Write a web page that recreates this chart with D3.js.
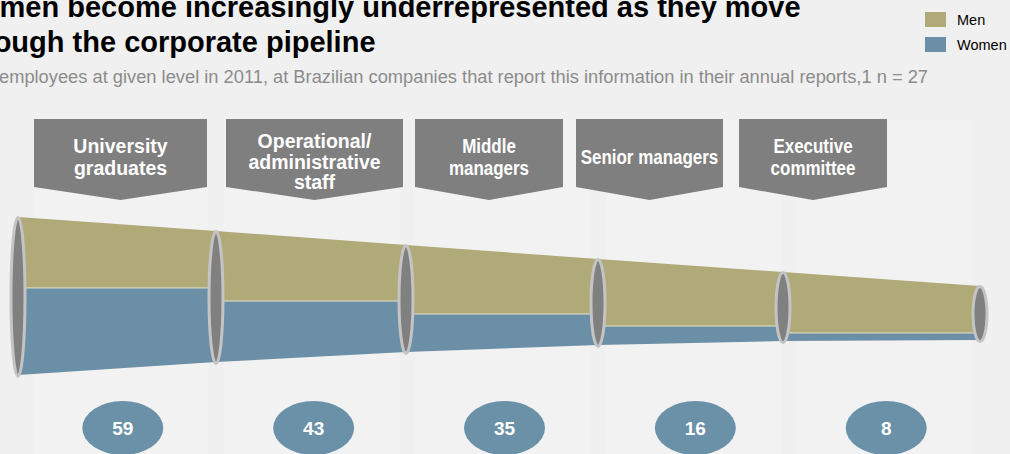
<!DOCTYPE html>
<html><head><meta charset="utf-8">
<script src="https://cdn.jsdelivr.net/npm/d3@7"></script>
<style>
html,body{margin:0;padding:0;background:#f0f0f0;overflow:hidden}
svg{display:block}
text{font-family:"Liberation Sans",Arial,Helvetica,sans-serif}
</style>
</head><body>
<svg id="chart" width="1010" height="454"></svg>
<script>
// ---- data ----
const titleLines = ["Women become increasingly underrepresented as they move", "through the corporate pipeline"];
const subtitle = "employees at given level in 2011, at Brazilian companies that report this information in their annual reports,1 n = 27";
const series = ["Men", "Women"];
const levels = ["University graduates", "Operational/ administrative staff", "Middle managers", "Senior managers", "Executive committee"];
const levelLines = [["University", "graduates"], ["Operational/", "administrative", "staff"], ["Middle", "managers"], ["Senior managers"], ["Executive", "committee"]];
const womenPct = [59, 43, 35, 16, 8];
// pipeline outline (relative units, 0 = bottom of first ring, 100 = top of first ring), at the 6 rings
const ringIndex = [0, 1, 2, 3, 4, 5];
const pipeTop = [100, 91.1, 82.3, 73.4, 65.2, 56.3];
const pipeBottom = [0, 8.2, 14.6, 19.0, 21.5, 22.2];
// men / women boundary inside each of the 5 segments
const pipeSplit = [55.1, 46.8, 38.6, 31.0, 26.6];

// ---- setup ----
const svg = d3.select("#chart");
const W = 1010, H = 454;
const colors = d3.scaleOrdinal().domain(series).range(["#afaa78", "#6b8fa6"]);

svg.append("rect").attr("width", W).attr("height", H).attr("fill", "#f0f0f0");

// column panels
const panel = d3.scaleBand().domain(levels).range([33, 972]).paddingInner(0.08);
svg.append("g").selectAll("rect").data(levels).join("rect")
  .attr("x", d => panel(d)).attr("y", 119)
  .attr("width", panel.bandwidth()).attr("height", H - 119)
  .attr("fill", "#f2f2f2");

// header chevrons
const header = d3.scaleOrdinal().domain(levels)
  .range([[34, 207], [226, 403], [415, 563], [576, 723], [739, 887]]);
const hTop = 119, hBody = 187, hTip = 200;
const hg = svg.append("g").selectAll("g").data(levels).join("g");
hg.append("path")
  .attr("d", d => {
    const [x0, x1] = header(d), cx = (x0 + x1) / 2;
    return `M${x0},${hTop}H${x1}V${hBody}L${cx},${hTip}L${x0},${hBody}Z`;
  })
  .attr("fill", "#7f7f7f");
hg.each(function (d, i) {
  const [x0, x1] = header(d), cx = (x0 + x1) / 2;
  const lines = levelLines[i];
  const n = lines.length;
  const fs = 19.5;
  const lh = n > 2 ? 20.5 : 22;
  const cy = 157 + (n > 2 ? 4.5 : 0);
  const sx = i >= 2 ? 0.87 : 1;
  const t = d3.select(this).append("g")
    .attr("transform", `translate(${cx},0) scale(${sx},1)`);
  t.selectAll("text").data(lines).join("text")
    .attr("x", 0)
    .attr("y", (l, k) => cy + (k - (n - 1) / 2) * lh + fs * 0.36)
    .attr("text-anchor", "middle")
    .attr("font-size", fs).attr("font-weight", "bold")
    .attr("fill", "#ffffff")
    .text(l => l);
});

// pipeline scales
const x = d3.scaleLinear().domain(ringIndex).range([18, 216, 406, 598, 783, 980]);
const y = d3.scaleLinear().domain([0, 100]).range([375, 217]);

const segs = levels.map((lv, i) => ({ i, lv }));
const gPipe = svg.append("g");
// men
gPipe.selectAll("path.men").data(segs).join("path").attr("class", "men")
  .attr("d", s => {
    const a = s.i, b = s.i + 1;
    return `M${x(a)},${y(pipeTop[a])}L${x(b)},${y(pipeTop[b])}L${x(b)},${y(pipeSplit[a])}L${x(a)},${y(pipeSplit[a])}Z`;
  })
  .attr("fill", colors("Men"));
// women
gPipe.selectAll("path.women").data(segs).join("path").attr("class", "women")
  .attr("d", s => {
    const a = s.i, b = s.i + 1;
    return `M${x(a)},${y(pipeSplit[a])}L${x(b)},${y(pipeSplit[a])}L${x(b)},${y(pipeBottom[b])}L${x(a)},${y(pipeBottom[a])}Z`;
  })
  .attr("fill", colors("Women"));
// split lines
gPipe.selectAll("line.split").data(segs).join("line").attr("class", "split")
  .attr("x1", s => x(s.i)).attr("x2", s => x(s.i + 1))
  .attr("y1", s => y(pipeSplit[s.i])).attr("y2", s => y(pipeSplit[s.i]))
  .attr("stroke", "#e4e2cc").attr("stroke-width", 1);

// rings
gPipe.selectAll("ellipse").data(ringIndex).join("ellipse")
  .attr("cx", r => x(r))
  .attr("cy", r => (y(pipeTop[r]) + y(pipeBottom[r])) / 2 + 1)
  .attr("rx", 7)
  .attr("ry", r => (y(pipeBottom[r]) - y(pipeTop[r])) / 2 + 0.5)
  .attr("fill", "#808080")
  .attr("stroke", "#c4c4c4").attr("stroke-width", 3);

// bottom value bubbles
const bubbles = svg.append("g").selectAll("g").data(levels).join("g")
  .attr("transform", d => `translate(${panel(d) + panel.bandwidth() / 2 + 2},428)`);
bubbles.append("ellipse").attr("rx", 40.5).attr("ry", 27).attr("fill", "#6b91a8");
bubbles.append("text")
  .attr("y", 7).attr("text-anchor", "middle")
  .attr("font-size", 19).attr("font-weight", "bold").attr("fill", "#ffffff")
  .text((d, i) => womenPct[i]);

// legend
const lg = svg.append("g").selectAll("g").data(series).join("g")
  .attr("transform", (d, i) => `translate(925,${12 + i * 25})`);
lg.append("rect").attr("width", 21).attr("height", 15).attr("fill", d => colors(d));
lg.append("text").attr("x", 32).attr("y", 13)
  .attr("font-size", 14.5).attr("fill", "#000").text(d => d);

// titles
svg.append("g").selectAll("text").data(titleLines).join("text")
  .attr("x", -45).attr("y", (d, i) => 17 + i * 35)
  .attr("font-size", 29).attr("font-weight", "bold").attr("fill", "#000")
  .text(d => d);
svg.append("text").attr("x", -1).attr("y", 83)
  .attr("font-size", 18.3).attr("fill", "#8c8c8c").text(subtitle);
</script>
</body></html>
